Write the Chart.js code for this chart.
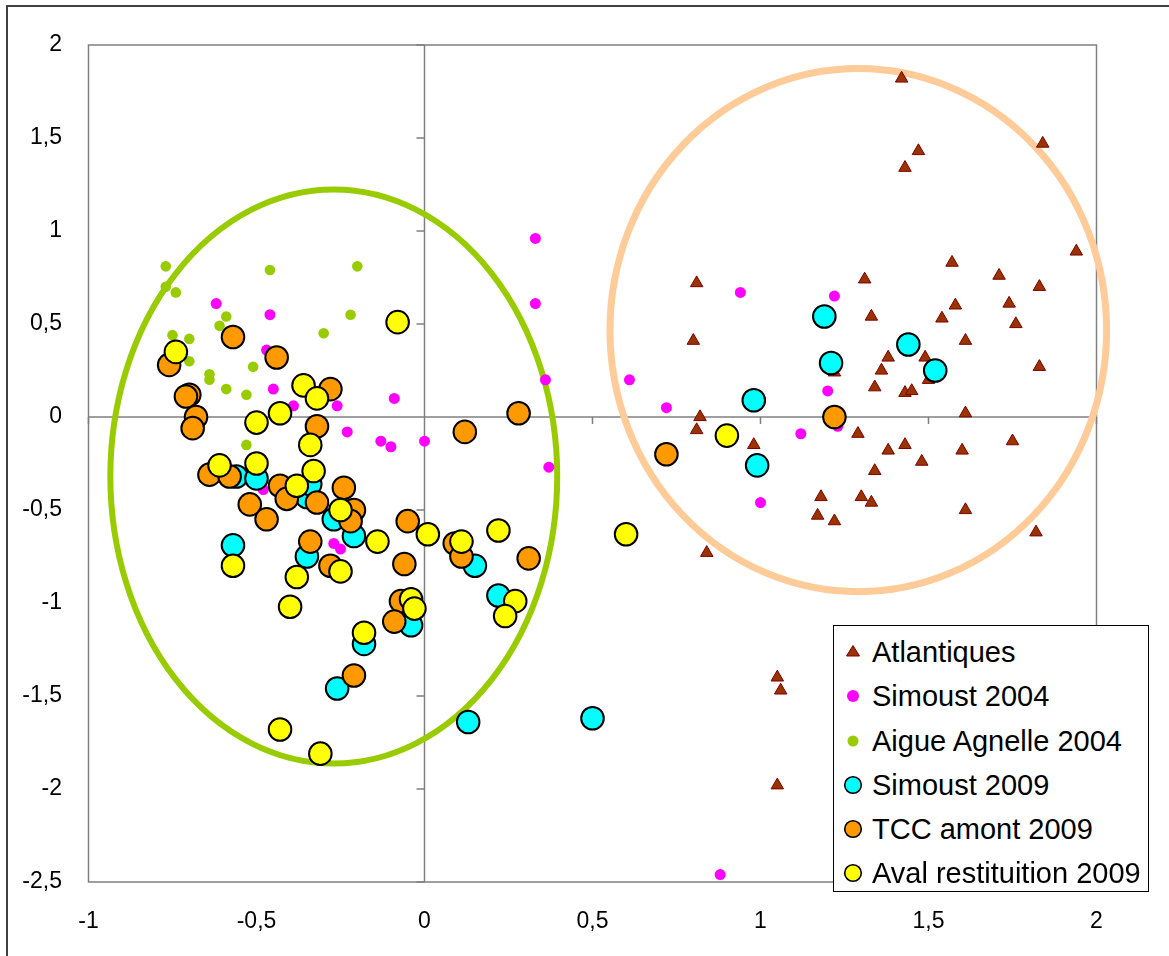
<!DOCTYPE html>
<html>
<head>
<meta charset="utf-8">
<script src="https://cdn.jsdelivr.net/npm/chart.js@4.4.1/dist/chart.umd.min.js"></script>
<style>
  html, body { margin: 0; padding: 0; background: #fff; }
  #wrap { position: relative; width: 1169px; height: 956px; overflow: hidden; }
  #frame { position: absolute; left: 6px; top: 5px; width: 1300px; height: 1100px;
           border-left: 2px solid #404040; border-top: 2px solid #404040; }
  #legend { position: absolute; left: 833px; top: 625px; width: 316px; height: 267px;
            border: 1px solid #000; background: #fff; box-sizing: border-box;
            padding-top: 4px; font-family: "Liberation Sans", Arial, sans-serif; font-size: 29px; }
  .item { position: relative; height: 44.3px; line-height: 44.3px; white-space: nowrap; }
  .item svg { position: absolute; left: 7px; top: 10px; }
  .item span { position: absolute; left: 38px; }
</style>
</head>
<body>
<div id="wrap">
  <div id="frame"></div>
  <canvas id="acpChart"></canvas>
  <div id="legend"></div>
</div>
<script>
// axis setup
const xMin = -1, xMax = 2, yMin = -2.5, yMax = 2, step = 0.5

const seriesNames = ["Atlantiques", "Simoust 2004", "Aigue Agnelle 2004",
    "Simoust 2009", "TCC amont 2009", "Aval restituition 2009"]

// [x, y] pairs
const atlantiques = [[1.42, 1.82], [1.84, 1.47], [1.47, 1.43], [1.43, 1.34], [1.94, 0.89], [1.57, 0.83],
    [1.31, 0.74], [1.71, 0.76], [1.83, 0.70], [1.74, 0.61], [1.58, 0.60], [1.33, 0.54], [1.54, 0.53],
    [1.76, 0.50], [1.61, 0.41], [1.83, 0.27], [1.38, 0.32], [1.49, 0.32], [1.36, 0.25], [1.22, 0.24],
    [1.50, 0.20], [1.34, 0.16], [1.43, 0.13], [1.45, 0.14], [1.61, 0.02], [1.29, -0.09], [1.43, -0.15],
    [1.38, -0.18], [1.60, -0.18], [1.75, -0.13], [1.48, -0.24], [1.34, -0.29], [1.18, -0.43], [1.30, -0.43],
    [1.33, -0.46], [1.17, -0.53], [1.22, -0.56], [1.61, -0.50], [1.82, -0.62], [0.80, 0.41], [0.82, 0.00],
    [0.81, -0.07], [0.98, -0.15], [0.84, -0.73], [0.81, 0.72], [1.05, -1.40], [1.06, -1.47], [1.05, -1.98]]

const simoust2004 = [[-0.62, 0.61], [-0.46, 0.55], [-0.47, 0.36], [-0.45, 0.15], [-0.39, 0.06], [-0.26, 0.06],
    [-0.23, -0.08], [-0.13, -0.13], [-0.10, -0.16], [-0.09, 0.10], [-0.48, -0.39], [-0.27, -0.68], [-0.25, -0.71],
    [0.33, 0.96], [0.33, 0.61], [0.94, 0.67], [0.36, 0.20], [0.61, 0.20], [0.72, 0.05], [0.00, -0.13],
    [0.37, -0.27], [1.00, -0.46], [1.22, 0.65], [1.20, 0.14], [1.12, -0.09], [1.23, -0.05], [0.88, -2.46]]

const aigueAgnelle2004 = [[-0.77, 0.81], [-0.77, 0.70], [-0.74, 0.67], [-0.46, 0.79], [-0.20, 0.81], [-0.59, 0.54],
    [-0.61, 0.49], [-0.22, 0.55], [-0.30, 0.45], [-0.75, 0.44], [-0.70, 0.42], [-0.70, 0.30], [-0.64, 0.23],
    [-0.64, 0.20], [-0.51, 0.27], [-0.59, 0.15], [-0.53, 0.12], [-0.53, -0.15]]

const simoust2009 = [[-0.56, -0.32], [-0.50, -0.33], [-0.35, -0.43], [-0.34, -0.36], [-0.27, -0.55], [-0.21, -0.64],
    [-0.57, -0.69], [-0.35, -0.75], [-0.18, -1.22], [-0.26, -1.46], [0.15, -0.80], [0.22, -0.96], [0.98, 0.09],
    [0.99, -0.26], [-0.04, -1.12], [0.13, -1.64], [0.50, -1.62], [1.19, 0.54], [1.21, 0.29], [1.44, 0.39], [1.52, 0.25]]

const tccAmont2009 = [[-0.57, 0.43], [-0.44, 0.32], [-0.76, 0.28], [-0.70, 0.12], [-0.71, 0.11], [-0.68, 0.00],
    [-0.69, -0.06], [-0.28, 0.15], [-0.32, -0.05], [-0.64, -0.31], [-0.58, -0.32], [-0.43, -0.37], [-0.41, -0.44],
    [-0.24, -0.38], [-0.32, -0.46], [-0.52, -0.47], [-0.47, -0.55], [-0.21, -0.50], [-0.22, -0.56], [-0.34, -0.67],
    [-0.28, -0.80], [-0.05, -0.56], [-0.06, -0.79], [-0.07, -0.99], [-0.09, -1.10], [-0.21, -1.39], [0.28, 0.02],
    [0.12, -0.08], [0.72, -0.20], [0.09, -0.68], [0.11, -0.75], [0.31, -0.76], [1.22, 0.00]]

const avalRestit2009 = [[-0.74, 0.35], [-0.36, 0.17], [-0.32, 0.10], [-0.50, -0.03], [-0.43, 0.02], [-0.34, -0.15],
    [-0.33, -0.29], [-0.61, -0.26], [-0.50, -0.25], [-0.38, -0.37], [-0.25, -0.50], [-0.14, -0.67], [-0.57, -0.80],
    [-0.38, -0.86], [-0.25, -0.83], [-0.40, -1.02], [-0.18, -1.16], [-0.43, -1.68], [-0.31, -1.81], [-0.08, 0.51],
    [0.90, -0.10], [0.60, -0.63], [0.01, -0.63], [0.11, -0.67], [0.22, -0.61], [0.27, -0.99], [0.24, -1.07],
    [-0.04, -0.98], [-0.03, -1.03]]

// the two hand drawn ellipses: [centerX, centerY, radiusX, radiusY] in axis units
const greenEllipse = [-0.27, -0.32, 0.665, 1.543]
const peachEllipse = [1.291, 0.467, 0.739, 1.406]

const toPoints = pairs => pairs.map(p => ({x: p[0], y: p[1]}))
const fmt = v => String(v).replace('.', ',')

const decor = {
    id: 'decor',
    beforeDatasetsDraw(chart) {
        const {ctx, chartArea: a, scales: {x, y}} = chart
        const x0 = x.getPixelForValue(0)
        const y0 = y.getPixelForValue(0)
        ctx.save()
        ctx.strokeStyle = '#808080'
        ctx.lineWidth = 1.5
        ctx.strokeRect(a.left, a.top, a.right - a.left, a.bottom - a.top)
        ctx.beginPath()
        ctx.moveTo(x0, a.top); ctx.lineTo(x0, a.bottom)
        ctx.moveTo(a.left, y0); ctx.lineTo(a.right, y0)
        y.ticks.forEach(t => {
            const py = y.getPixelForValue(t.value)
            ctx.moveTo(x0 - 8, py); ctx.lineTo(x0, py)
        })
        x.ticks.forEach(t => {
            const px = x.getPixelForValue(t.value)
            ctx.moveTo(px, y0); ctx.lineTo(px, y0 + 7)
        })
        ctx.stroke()

        const drawEllipse = (e, color, width) => {
            const cx = x.getPixelForValue(e[0]), cy = y.getPixelForValue(e[1])
            const rx = x.getPixelForValue(e[0] + e[2]) - cx
            const ry = cy - y.getPixelForValue(e[1] + e[3])
            ctx.beginPath()
            ctx.ellipse(cx, cy, rx, ry, 0, 0, Math.PI * 2)
            ctx.strokeStyle = color
            ctx.lineWidth = width
            ctx.stroke()
        }
        drawEllipse(greenEllipse, '#99cc00', 6)
        drawEllipse(peachEllipse, '#ffcc99', 7)
        ctx.restore()
    }
}

const tickFont = {family: 'Liberation Sans', size: 23}

const canvas = document.getElementById('acpChart')
canvas.width = 1169
canvas.height = 956

new Chart(canvas.getContext('2d'), {
    type: 'scatter',
    data: {
        datasets: [{
            label: seriesNames[0], data: toPoints(atlantiques), order: 5,
            pointStyle: 'triangle', pointRadius: 7.2, borderWidth: 1,
            backgroundColor: '#993300', borderColor: '#800000',
        }, {
            label: seriesNames[1], data: toPoints(simoust2004), order: 4,
            pointRadius: 5.5, borderWidth: 0, backgroundColor: '#ff00ff', borderColor: '#ff00ff',
        }, {
            label: seriesNames[2], data: toPoints(aigueAgnelle2004), order: 3,
            pointRadius: 5.3, borderWidth: 0, backgroundColor: '#99cc00', borderColor: '#99cc00',
        }, {
            label: seriesNames[3], data: toPoints(simoust2009), order: 2,
            pointRadius: 11.3, borderWidth: 2, backgroundColor: '#00ffff', borderColor: '#000',
        }, {
            label: seriesNames[4], data: toPoints(tccAmont2009), order: 1,
            pointRadius: 11.3, borderWidth: 2, backgroundColor: '#ff9900', borderColor: '#000',
        }, {
            label: seriesNames[5], data: toPoints(avalRestit2009), order: 0,
            pointRadius: 11.3, borderWidth: 2, backgroundColor: '#ffff00', borderColor: '#000',
        }]
    },
    options: {
        responsive: false,
        animation: false,
        clip: false,
        events: [],
        layout: {padding: {left: 0, top: 45, right: 72.5, bottom: 0}},
        plugins: {legend: {display: false}, tooltip: {enabled: false}},
        scales: {
            x: {
                type: 'linear', min: xMin, max: xMax,
                grid: {display: false}, border: {display: false},
                ticks: {stepSize: step, color: '#000', font: tickFont, padding: 18, callback: fmt},
                afterFit: s => { s.height = 74 }
            },
            y: {
                type: 'linear', min: yMin, max: yMax,
                grid: {display: false}, border: {display: false},
                ticks: {stepSize: step, color: '#000', font: tickFont, padding: 18.5, callback: fmt},
                afterFit: s => { s.width = 88.5 }
            }
        }
    },
    plugins: [decor]
})

// legend box drawn as html so the labels stay real text
const markers = [
    '<polygon points="12,5.5 18.5,16 5.5,16" fill="#993300" stroke="#800000" stroke-width="1"/>',
    '<circle cx="12" cy="12" r="6" fill="#ff00ff"/>',
    '<circle cx="12" cy="12" r="5.5" fill="#99cc00"/>',
    '<circle cx="12" cy="12" r="8.3" fill="#00ffff" stroke="#000" stroke-width="1.6"/>',
    '<circle cx="12" cy="12" r="8.3" fill="#ff9900" stroke="#000" stroke-width="1.6"/>',
    '<circle cx="12" cy="12" r="8.3" fill="#ffff00" stroke="#000" stroke-width="1.6"/>',
]
const legend = document.getElementById('legend')
seriesNames.forEach((name, i) => {
    const row = document.createElement('div')
    row.className = 'item'
    row.innerHTML = '<svg width="24" height="24" viewBox="0 0 24 24">' + markers[i] + '</svg><span></span>'
    row.querySelector('span').textContent = name
    legend.appendChild(row)
})
</script>
</body>
</html>
